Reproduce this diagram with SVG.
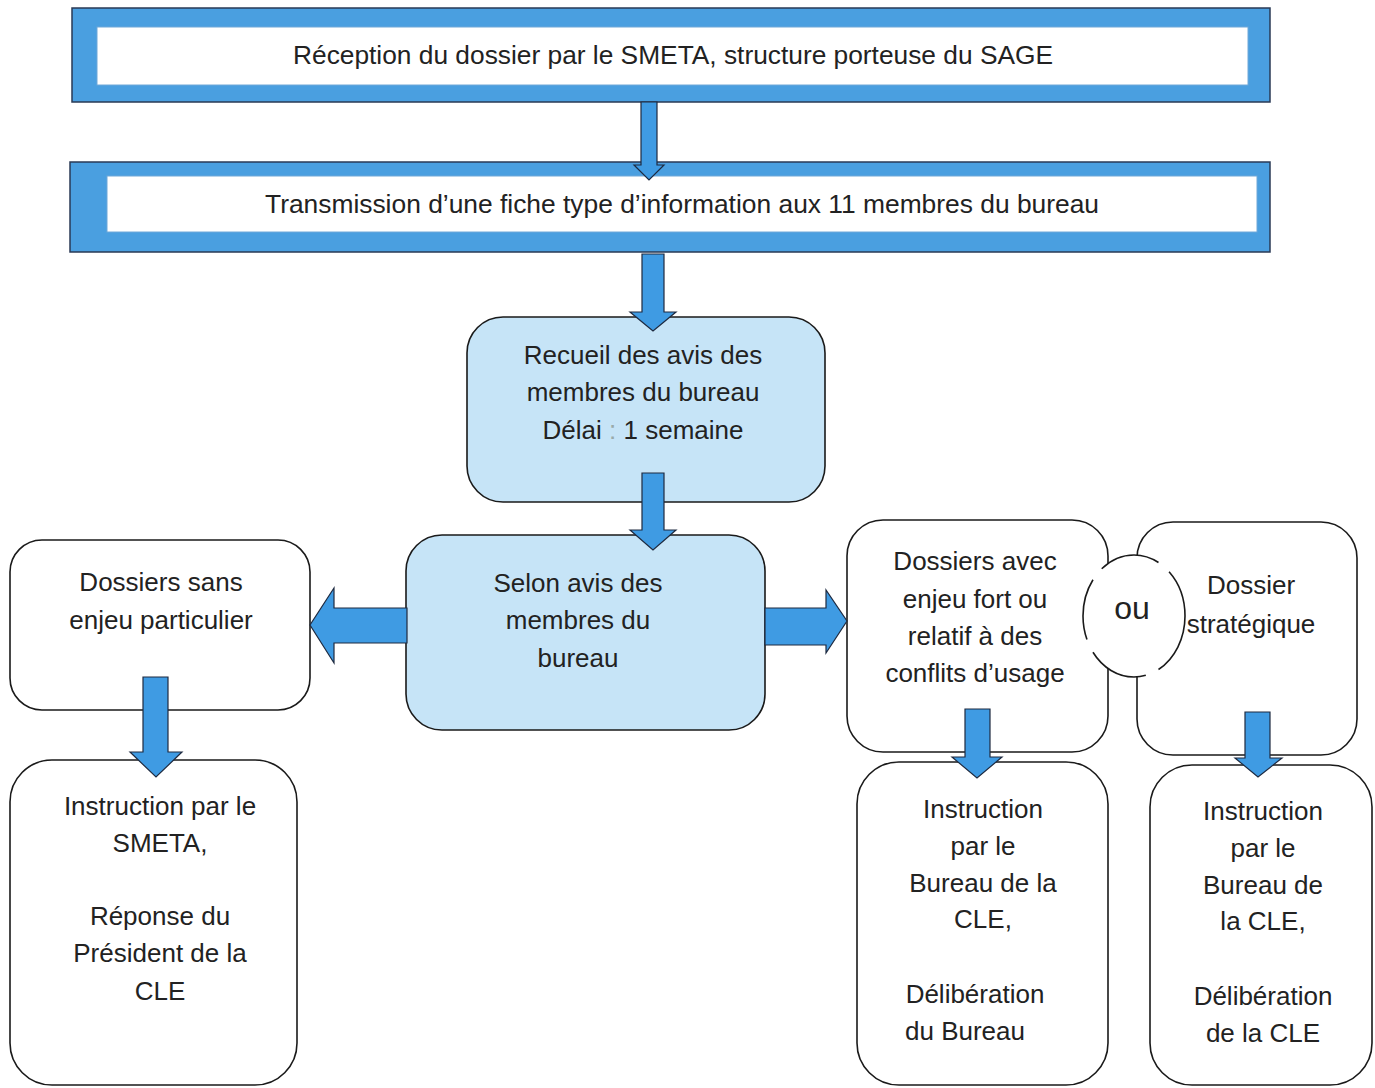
<svg xmlns="http://www.w3.org/2000/svg" width="1375" height="1088" viewBox="0 0 1375 1088">
<style>
.frame{fill:#4a9fe0;stroke:#2a3a55;stroke-width:1.5}
.inner{fill:#ffffff;stroke:#6fa8d8;stroke-width:1}
.box{fill:#ffffff;stroke:#1a1a1a;stroke-width:1.6}
.blue{fill:#c6e4f7;stroke:#1a1a1a;stroke-width:1.6}
.arrow{fill:#3f9be3;stroke:#1e2a40;stroke-width:1.2;stroke-linejoin:miter}
text{font-family:"Liberation Sans",Arial,sans-serif;font-size:26px;fill:#222;text-anchor:middle}
text.big{font-size:32px}
.ou{fill:#ffffff;stroke:#1a1a1a;stroke-width:1.6;stroke-dasharray:62 14}
</style>
<rect width="1375" height="1088" fill="#ffffff"/>
<g id="n-reception">
<rect class="frame" x="72" y="8" width="1198" height="94"/>
<rect class="inner" x="97" y="27" width="1151" height="58"/>
<text x="673" y="64" textLength="760" lengthAdjust="spacingAndGlyphs">Réception du dossier par le SMETA, structure porteuse du SAGE</text>
</g>
<g id="n-transmission">
<rect class="frame" x="70" y="162" width="1200" height="90"/>
<rect class="inner" x="107" y="176" width="1150" height="56"/>
<text x="682" y="213" textLength="834" lengthAdjust="spacingAndGlyphs">Transmission d’une fiche type d’information aux 11 membres du bureau</text>
</g>
<g id="n-recueil">
<rect class="blue" x="467" y="317" width="358" height="185" rx="36"/>
<text x="643" y="364">Recueil des avis des</text>
<text x="643" y="401">membres du bureau</text>
<text x="643" y="439">Délai <tspan fill="#9aa">:</tspan> 1 semaine</text>
</g>
<g id="n-selon">
<rect class="blue" x="406" y="535" width="359" height="195" rx="36"/>
<text x="578" y="592">Selon avis des</text>
<text x="578" y="629">membres du</text>
<text x="578" y="667">bureau</text>
</g>
<g id="n-sans">
<rect class="box" x="10" y="540" width="300" height="170" rx="32"/>
<text x="161" y="591">Dossiers sans</text>
<text x="161" y="629">enjeu particulier</text>
</g>
<g id="n-instr-smeta">
<rect class="box" x="10" y="760" width="287" height="325" rx="42"/>
<text x="160" y="815">Instruction par le</text>
<text x="160" y="852">SMETA,</text>
<text x="160" y="925">Réponse du</text>
<text x="160" y="962">Président de la</text>
<text x="160" y="1000">CLE</text>
</g>
<g id="n-avec">
<rect class="box" x="847" y="520" width="261" height="232" rx="36"/>
<text x="975" y="570">Dossiers avec</text>
<text x="975" y="608">enjeu fort ou</text>
<text x="975" y="645">relatif à des</text>
<text x="975" y="682">conflits d’usage</text>
</g>
<g id="n-strategique">
<rect class="box" x="1137" y="522" width="220" height="233" rx="36"/>
</g>
<g id="n-ou">
<ellipse class="ou" cx="1134" cy="616" rx="51" ry="61"/>
<text class="big" x="1132" y="619">ou</text>
</g>
<g id="n-strategique-text">
<text x="1251" y="594">Dossier</text>
<text x="1251" y="633">stratégique</text>
</g>
<g id="n-instr-bureau">
<rect class="box" x="857" y="762" width="251" height="323" rx="42"/>
<text x="983" y="818">Instruction</text>
<text x="983" y="855">par le</text>
<text x="983" y="892">Bureau de la</text>
<text x="983" y="928">CLE,</text>
<text x="975" y="1003">Délibération</text>
<text x="965" y="1040">du Bureau</text>
</g>
<g id="n-instr-cle">
<rect class="box" x="1150" y="765" width="222" height="320" rx="42"/>
<text x="1263" y="820">Instruction</text>
<text x="1263" y="857">par le</text>
<text x="1263" y="894">Bureau de</text>
<text x="1263" y="930">la CLE,</text>
<text x="1263" y="1005">Délibération</text>
<text x="1263" y="1042">de la CLE</text>
</g>
<g id="connectors">
<polygon class="arrow" points="641,102 657,102 657,165 664,165 649,180 634,165 641,165"/>
<polygon class="arrow" points="642,254 664,254 664,312 676,312 653,331 630,312 642,312"/>
<polygon class="arrow" points="642,473 664,473 664,530 676,530 653,550 630,530 642,530"/>
<polygon class="arrow" points="407,608 334,608 334,588 310,625 334,663 334,643 407,643"/>
<polygon class="arrow" points="765,608 826,608 826,590 847,621 826,653 826,645 765,645"/>
<polygon class="arrow" points="143,677 168,677 168,752 182,752 156,777 130,752 143,752"/>
<polygon class="arrow" points="965,709 990,709 990,757 1002,757 977,778 952,757 965,757"/>
<polygon class="arrow" points="1245,712 1270,712 1270,758 1282,758 1258,777 1235,758 1245,758"/>
</g>
</svg>
